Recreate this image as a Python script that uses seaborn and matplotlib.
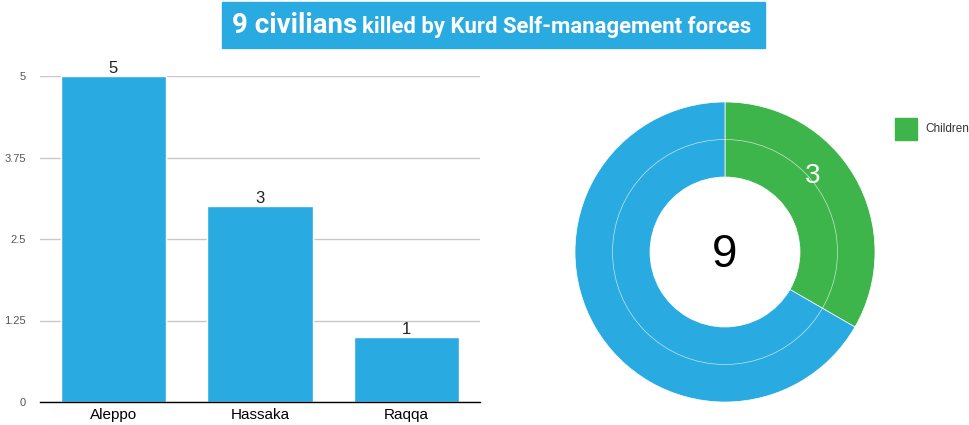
import matplotlib
matplotlib.use("Agg")
import matplotlib.pyplot as plt
import seaborn as sns
import numpy as np
import pandas as pd
from matplotlib.patches import Rectangle, Circle

# ---- data ----
cities = ["Aleppo", "Hassaka", "Raqqa"]
killed = [5, 3, 1]
yticks = [0, 1.25, 2.5, 3.75, 5]
ytick_labels = ["0", "1.25", "2.5", "3.75", "5"]
donut_labels = ["Children", "Others"]
donut_values = [3, 6]
total = 9
title_big = "9 civilians"
title_rest = "killed by Kurd Self-management forces"

BLUE = "#29abe2"
GREEN = "#3db54a"

sns.set_theme(style="white")
plt.rcParams["font.family"] = ["Liberation Sans", "DejaVu Sans"]

W, H = 969, 425
fig = plt.figure(figsize=(W / 100, H / 100), dpi=100)

def px_axes(x0, y0, x1, y1):
    return fig.add_axes([x0 / W, 1 - y1 / H, (x1 - x0) / W, (y1 - y0) / H])

# ---- bar chart ----
ax = px_axes(40, 76, 480, 402)
df = pd.DataFrame({"city": cities, "killed": killed})
sns.barplot(data=df, x="city", y="killed", color=BLUE, saturation=1, width=0.72, ax=ax, zorder=3)
ax.set_ylim(0, 5)
ax.set_xlim(-0.5, 2.5)
ax.set_yticks(yticks)
ax.set_yticklabels(ytick_labels, fontsize=8, color="#555555")
ax.set_xlabel("")
ax.set_ylabel("")
ax.tick_params(axis="x", labelsize=11, colors="black", length=0, pad=4)
ax.tick_params(axis="y", length=0, pad=10)
ax.grid(axis="y", color="#c8c8c8", linewidth=1, zorder=0)
for s in ["top", "right", "left"]:
    ax.spines[s].set_visible(False)
ax.spines["bottom"].set_color("black")
ax.spines["bottom"].set_linewidth(1)
ax.spines["bottom"].set_zorder(4)
for i, v in enumerate(killed):
    ax.text(i, v, str(v), ha="center", va="bottom", fontsize=12, color="#222222", clip_on=False)

# ---- donut ----
ax2 = px_axes(575, 102, 875, 402)
wedges, _ = ax2.pie(donut_values, colors=[GREEN, BLUE], startangle=90, counterclock=False,
                    radius=1, wedgeprops=dict(width=0.5, edgecolor="white", linewidth=0.5))
ax2.set_xlim(-1, 1)
ax2.set_ylim(-1, 1)
ax2.set_aspect("equal")
ax2.add_patch(Circle((0, 0), 0.75, fill=False, edgecolor="white", linewidth=0.5, alpha=0.7))
ax2.text(0, -0.02, str(total), ha="center", va="center", fontsize=33, color="black", fontweight="light")
frac = donut_values[0] / sum(donut_values)
ang = np.deg2rad(90 - frac * 360 * 0.41)
r = 0.775
ax2.text(r * np.cos(ang), r * np.sin(ang), str(donut_values[0]), ha="center", va="center",
         fontsize=20, color="white")

# legend
lax = px_axes(880, 105, 969, 145)
lax.axis("off")
lax.set_xlim(0, 89)
lax.set_ylim(40, 0)
lax.add_patch(Rectangle((15, 13), 22, 22, color=GREEN))
lax.text(45, 24.5, donut_labels[0], fontsize=8.5, color="#333333", va="center", ha="left")

# ---- title ----
fig.patches.append(Rectangle((222 / W, 1 - 48 / H), (765 - 222) / W, 46 / H,
                             transform=fig.transFigure, color=BLUE, zorder=0))
tfam = ["Roboto", "Liberation Sans", "DejaVu Sans"]
x_start, x_end = 232, 752
big, small = 20.0, 16.0
t1 = fig.text(x_start / W, 1 - 33 / H, title_big, fontsize=big, fontweight="bold", color="white",
              family=tfam, va="baseline", ha="left")
t2 = fig.text(0, 1 - 33 / H, title_rest, fontsize=small, fontweight="bold", color="white",
              family=tfam, va="baseline", ha="left")
for _ in range(3):
    fig.canvas.draw()
    bb1 = t1.get_window_extent()
    t2.set_x((bb1.x1 + 5) / W)
    fig.canvas.draw()
    bb2 = t2.get_window_extent()
    s = (x_end - x_start) / (bb2.x1 - bb1.x0)
    big *= s
    small *= s
    t1.set_fontsize(big)
    t2.set_fontsize(small)
fig.canvas.draw()
bb1 = t1.get_window_extent()
t2.set_x((bb1.x1 + 5) / W)

fig.savefig("out.png", dpi=100)
